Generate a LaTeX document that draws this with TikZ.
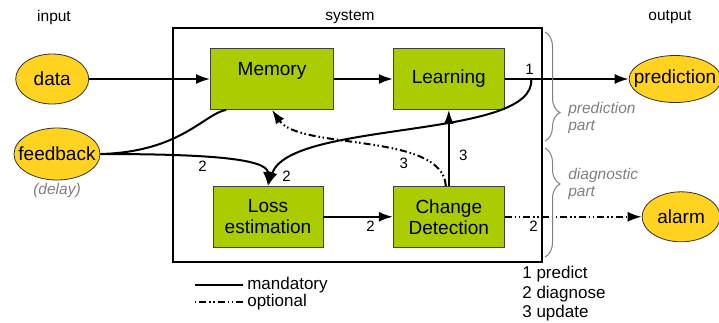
\documentclass[tikz,border=0pt]{standalone}
\usepackage{fontspec}
\setmainfont{Liberation Sans}
\usepackage{tikz}
\usetikzlibrary{shapes,arrows,arrows.meta}
\usetikzlibrary{positioning}
\usetikzlibrary{decorations.pathreplacing}
\definecolor{boxgreen}{RGB}{170,204,0}
\definecolor{ellyellow}{RGB}{255,211,32}
\definecolor{notegray}{RGB}{128,128,128}
\tikzset{
  block/.style={draw=black!75, fill=boxgreen, line width=0.8pt, minimum width=111pt, minimum height=61pt, align=center, font=\fontsize{19}{21}\selectfont},
  io/.style={ellipse, draw=black!80, fill=ellyellow, line width=0.8pt, inner sep=0pt, inner xsep=-10pt, minimum height=50pt, font=\fontsize{19}{21}\selectfont},
  num/.style={font=\fontsize{15}{17}\selectfont},
  head/.style={font=\fontsize{15.5}{17}\selectfont},
  note/.style={font=\fontsize{15.5}{17}\selectfont\itshape, text=notegray, align=left},
  legend/.style={font=\fontsize{17}{19.5}\selectfont, align=left},
  opt/.style={dash pattern=on 7pt off 3pt on 1.5pt off 2.5pt on 1.5pt off 3pt},
}

\begin{document}
\begin{tikzpicture}[x=1pt,y=-1pt,node distance=2em,>={Latex[length=14pt,width=10pt]},line width=2pt]
\path[use as bounding box] (0,0) rectangle (719,322);
%\draw[red,thin] (0,0) rectangle (719,322);
\path node[draw, line width=2pt, minimum width=369pt, minimum height=234pt] (sys) at (357.5,145) {};
\path node[head] (tin) at (54,17) {input};
\path node[head] (tsys) at (350,17) {system};
\path node[head] (tout) at (670,17) {output};
\path node[block, minimum width=123pt, text depth=20pt] (mem) at (272,79) {Memory};
\path node[block, right=59pt of mem] (learn) {Learning};
\path node[block, below=76pt of learn] (cd) {Change\\Detection};
\path node[block, minimum width=110pt, left=69.5pt of cd] (loss) {Loss\\estimation};
\path node[io, minimum width=73pt, left=121pt of mem] (data) {data};
\path node[io, minimum width=86pt, minimum height=52pt] (fb) at (57,154) {feedback};
\path node[note, below=-1pt of fb] (delay) {(delay)};
\path node[io, minimum width=92pt, minimum height=47pt, right=124pt of learn] (pred) {prediction};
\path node[io, minimum width=78pt, right=137pt of cd] (alarm) {alarm};
\path (learn.east) ++(26.5,0) coordinate (split);
\path[->] (data) edge (mem);
\path[->] (mem) edge (learn);
\path[->] (learn) edge node[num, above, pos=0.2] {1} (pred);
\path[->] (loss) edge node[num, below, pos=0.68] {2} (cd);
\path[->] (cd) edge node[num, right=6pt, pos=0.4] {3} (learn);
\path[->, opt] (cd) edge node[num, below, pos=0.21] {2} (alarm);
\draw (fb.east) .. controls +(80,-2) and +(-22,4) .. ([xshift=16pt]mem.south west);
\draw[->] (fb.east) .. controls +(100,0) and +(0,-28) .. node[num, below, pos=0.4] {2} (loss.north);
\draw[->] (split) .. controls +(5,61) and +(22,-66) .. node[num, right=5pt, pos=0.95] {2} (loss.north);
\draw[->, opt] ([xshift=-3pt]cd.north) .. controls +(-3,-54) and +(28,40.5) .. node[num, below left, pos=0.3] {3} (mem.south);
\draw[decorate, decoration={brace, amplitude=15pt, aspect=0.74}, notegray, line width=1pt] (545,32) -- (545,141);
\draw[decorate, decoration={brace, amplitude=15pt, aspect=0.33}, notegray, line width=1pt] (545,148) -- (545,257);
\path node[note, anchor=west] (ppart) at (564,117.5) {prediction\\part};
\path node[note, anchor=west] (dpart) at (564,184) {diagnostic\\part};
\path node[legend, anchor=west] (mand) at (243,285) {mandatory};
\path node[legend, anchor=west] (optl) at (243,302) {optional};
\draw (mand.west) -- ++(-48,0);
\draw[opt] (optl.west) -- ++(-48,0);
\path node[legend, anchor=north west] (steps) at (518,262) {1 predict\\2 diagnose\\3 update};
\end{tikzpicture}
\end{document}
